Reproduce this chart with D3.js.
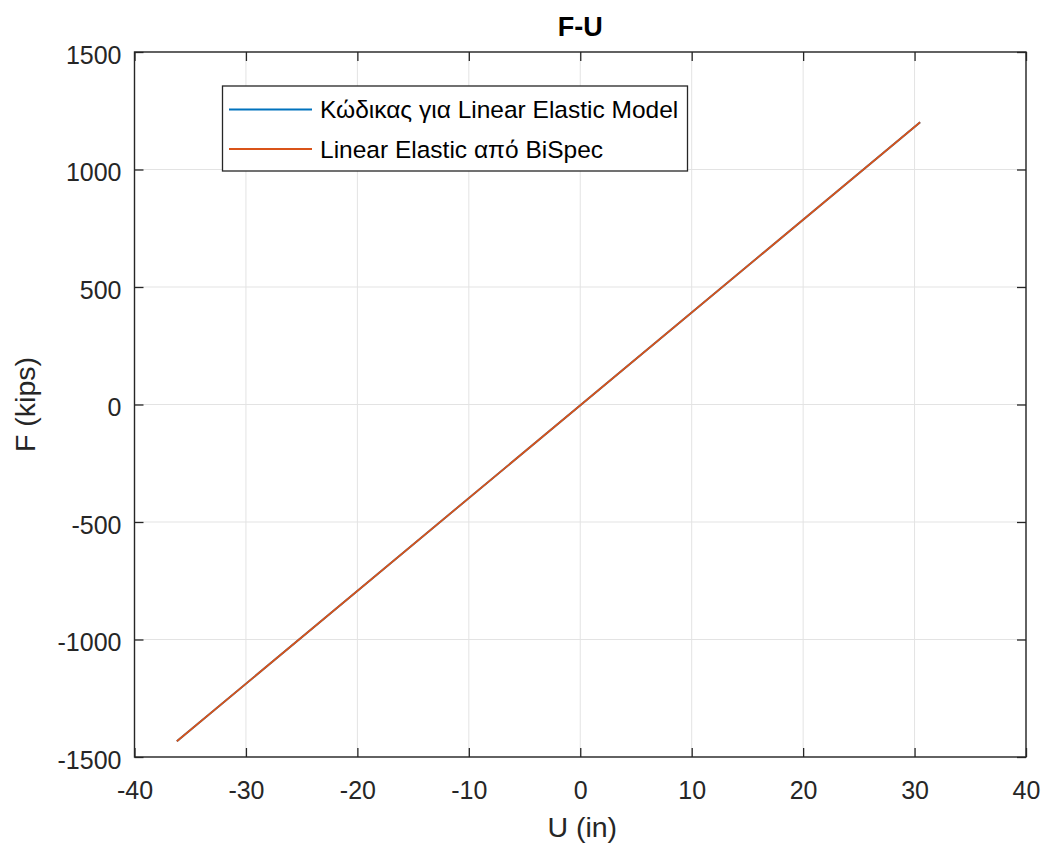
<!DOCTYPE html>
<html><head><meta charset="utf-8">
<script src="https://cdn.jsdelivr.net/npm/d3@7"></script>
<style>body{margin:0;background:#fff;} text{font-family:"Liberation Sans",Arial,sans-serif;}</style>
</head><body>
<svg id="c" width="1046" height="845"></svg>
<script>
const xTicks = [-40,-30,-20,-10,0,10,20,30,40];
const yTicks = [-1500,-1000,-500,0,500,1000,1500];
const seriesNames = ["Κώδικας για Linear Elastic Model","Linear Elastic από BiSpec"];
const seriesColors = ["#0072BD","#D95319"];
const uCode = [-36.2, 30.5];
const fCode = [-1433, 1201];
const uBiSpec = [-36.2, 30.5];
const fBiSpec = [-1433, 1201];

const svg = d3.select("#c");
const L=134.5, R=1026, T=52, B=757;
const x = d3.scaleLinear().domain([-40,40]).range([L,R]);
const y = d3.scaleLinear().domain([-1500,1500]).range([B,T]);
const FONT = "Liberation Sans, Arial, sans-serif";

// grid
const g = svg.append("g");
g.selectAll(".gx").data(xTicks).enter().append("line")
 .attr("x1",d=>x(d)).attr("x2",d=>x(d)).attr("y1",T).attr("y2",B)
 .attr("stroke","#e3e3e3").attr("stroke-width",1);
g.selectAll(".gy").data(yTicks).enter().append("line")
 .attr("y1",d=>y(d)).attr("y2",d=>y(d)).attr("x1",L).attr("x2",R)
 .attr("stroke","#e3e3e3").attr("stroke-width",1);

// lines
const series = [
  {u:uCode,f:fCode,c:seriesColors[0]},
  {u:uBiSpec,f:fBiSpec,c:seriesColors[1]}
];
const line = d3.line().x(d=>x(d[0])).y(d=>y(d[1]));
series.forEach(s=>{
  svg.append("path").datum(s.u.map((u,i)=>[u,s.f[i]]))
   .attr("d",line).attr("fill","none").attr("stroke",s.c).attr("stroke-width",1.8);
});

// axes with inward ticks
const ax = (axis, tr) => {
  const a = svg.append("g").attr("transform",tr).call(axis);
  a.select(".domain").remove();
  a.selectAll("line").attr("stroke","#262626").attr("stroke-width",1.3);
  a.attr("font-size",null).attr("font-family",null);
  return a;
};
const fmt = d=>String(d);
const bx = ax(d3.axisBottom(x).tickValues(xTicks).tickSizeInner(-9).tickSizeOuter(0).tickPadding(24).tickFormat(fmt), `translate(0,${B})`);
bx.selectAll("text").style("font-size","25px").style("font-family",FONT).attr("fill","#262626");
ax(d3.axisTop(x).tickValues(xTicks).tickSizeInner(-9).tickSizeOuter(0).tickFormat(""), `translate(0,${T})`);
const ly = ax(d3.axisLeft(y).tickValues(yTicks).tickSizeInner(-9).tickSizeOuter(0).tickPadding(13).tickFormat(fmt), `translate(${L},0)`);
ly.selectAll("text").style("font-size","25px").style("font-family",FONT).attr("fill","#262626").attr("dy","0.45em");
ax(d3.axisRight(y).tickValues(yTicks).tickSizeInner(-9).tickSizeOuter(0).tickFormat(""), `translate(${R},0)`);

// frame
svg.append("rect").attr("x",L).attr("y",T).attr("width",R-L).attr("height",B-T)
 .attr("fill","none").attr("stroke","#262626").attr("stroke-width",1.4);

// title & labels
svg.append("text").attr("x",(L+R)/2).attr("y",36).attr("text-anchor","middle")
 .style("font-size","27px").attr("font-weight","bold").attr("fill","#000").text("F-U");
svg.append("text").attr("x",(L+R)/2+2).attr("y",837).attr("text-anchor","middle")
 .style("font-size","28.5px").attr("fill","#262626").text("U (in)");
svg.append("text").attr("transform",`translate(35,${(T+B)/2}) rotate(-90)`).attr("text-anchor","middle")
 .style("font-size","28.5px").attr("fill","#262626").text("F (kips)");

// legend
const lg = svg.append("g");
lg.append("rect").attr("x",222.5).attr("y",86).attr("width",465).attr("height",85)
 .attr("fill","#fff").attr("stroke","#262626").attr("stroke-width",1.3);
seriesNames.forEach((n,i)=>{
  const yy = 109.5 + i*39.5;
  lg.append("line").attr("x1",229).attr("x2",312).attr("y1",yy).attr("y2",yy)
   .attr("stroke",seriesColors[i]).attr("stroke-width",1.8);
  lg.append("text").attr("x",320).attr("y",yy+8.5).style("font-size","24.5px").attr("fill","#000").text(n);
});
</script>
</body></html>
